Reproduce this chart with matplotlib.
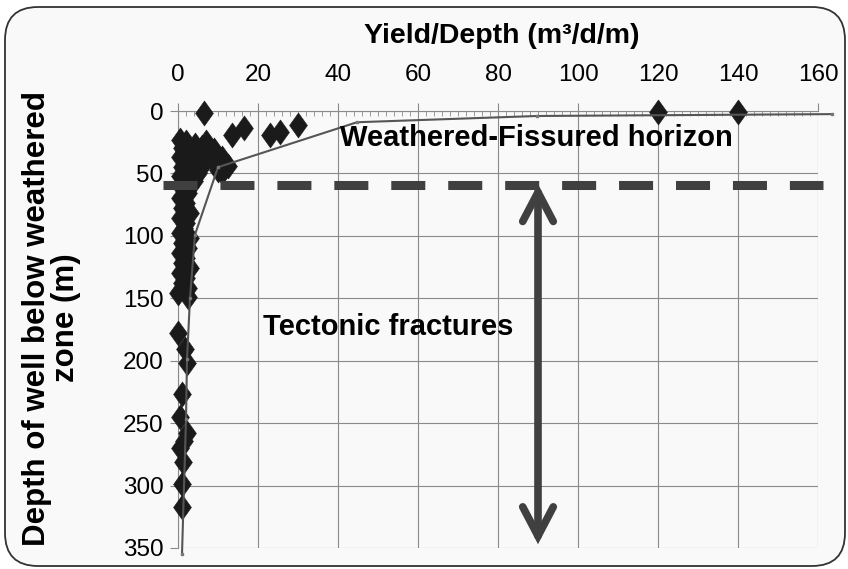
import numpy as np
import matplotlib
matplotlib.use("Agg")
import matplotlib.pyplot as plt
from matplotlib.patches import FancyBboxPatch
from matplotlib.path import Path

# valori (resa/profondità vs profondità)
yield_vals = [6.5, 120, 140, 13.5, 16.5, 23, 25.5, 30,
              0.5, 2, 4.25, 6, 7, 9, 11, 12.5, 11, 1, 3, 5, 8, 10, 0.5, 2, 4, 6, 10,
              1, 3, 5, 0.5, 2.5, 4, 1, 3,
              1, 2.5, 0.5, 2, 1, 3, 0.5, 2, 1.5, 0.5, 3, 1, 2.5, 0.5, 2, 1, 3, 0.5,
              2, 1, 2.5, 0, 2.5,
              0, 1.75, 2.25, 1, 0.5, 2.25, 1.5, 0.5, 1.25, 1, 1]
depth_vals = [2, 0.5, 0.5, 19, 14, 19, 17, 11,
              23, 25, 27, 29, 25, 31, 38, 44, 49, 30, 32, 34, 36, 42, 37, 40, 38, 44, 47,
              45, 48, 50, 52, 54, 56, 58, 60,
              62, 66, 70, 74, 78, 82, 86, 90, 94, 98, 102, 106, 110, 114, 118, 122, 126, 130,
              134, 138, 142, 146, 149,
              178, 191, 202, 227, 245, 258, 264, 270, 281, 299, 317]

# curva di tendenza
trend_x = [1.0, 2.0, 2.25, 3.0, 4.25, 10, 44.75, 89.75, 163.5]
trend_y = [355, 247, 199, 150, 99, 45, 9, 4, 2.5]

x_ticks = [0, 20, 40, 60, 80, 100, 120, 140, 160]
y_ticks = [0, 50, 100, 150, 200, 250, 300, 350]
horizon_depth = 59

plt.rcParams['lines.scale_dashes'] = False
font = ['Liberation Sans', 'DejaVu Sans']

fig = plt.figure(figsize=(8.48, 5.69), dpi=100)
fig.patch.set_facecolor('white')

# cornice arrotondata
box = FancyBboxPatch((0.05, 0.03), 8.40, 5.59, boxstyle="round,pad=0,rounding_size=0.33",
                     transform=fig.dpi_scale_trans, fc='#f9f9f9', ec='#333333', lw=1.3,
                     zorder=-10)
fig.add_artist(box)

ax = fig.add_axes([178 / 848, 1 - 548 / 569, 640 / 848, 437 / 569])
ax.set_facecolor('none')
ax.set_xlim(0, 160)
ax.set_ylim(350, 0)

ax.xaxis.tick_top()
ax.set_xticks(x_ticks)
ax.set_xticks(np.arange(0, 161, 2), minor=True)
ax.set_yticks(y_ticks)
ax.grid(True, which='major', color='#8a8a8a', lw=0.8)
ax.set_axisbelow(True)
for s in ['right', 'bottom']:
    ax.spines[s].set_visible(False)
for s in ['top', 'left']:
    ax.spines[s].set_color('#8a8a8a')
    ax.spines[s].set_linewidth(0.8)
ax.tick_params(axis='x', which='major', direction='out', length=6, color='#8a8a8a', pad=12)
ax.tick_params(axis='x', which='minor', direction='in', length=3.5, color='#8a8a8a')
ax.tick_params(axis='y', which='major', direction='out', length=5.5, color='#8a8a8a', pad=5)
for lab in ax.get_xticklabels() + ax.get_yticklabels():
    lab.set_family(font)
    lab.set_fontsize(17.5)

ax.set_xlabel('Yield/Depth (m³/d/m)', family=font, fontsize=20.5, fontweight='bold')
ax.xaxis.set_label_position('top')
ax.xaxis.set_label_coords(0.506, 1.172)
ax.xaxis.label.set_va('center')
ax.set_ylabel('Depth of well below weathered\nzone (m)', family=font, fontsize=22.5,
              fontweight='bold', linespacing=0.97)
ax.yaxis.set_label_coords(-0.151, 0.526)

# punti (rombi allungati)
diamond = Path([(0, 1.4), (1, 0), (0, -1.4), (-1, 0), (0, 1.4)],
               [Path.MOVETO, Path.LINETO, Path.LINETO, Path.LINETO, Path.CLOSEPOLY])
ax.plot(yield_vals, depth_vals, ls='none', marker=diamond, ms=18, mfc='#1a1a1a',
        mec='#1a1a1a', mew=0.4, clip_on=False, zorder=3)

ax.plot(trend_x, trend_y, color='#555555', lw=1.5, marker='s', ms=1.8, mfc='#777777',
        mec='#777777', clip_on=False, zorder=4)

# limite orizzonte alterato
ax.plot([-3.75, 161.25], [horizon_depth, horizon_depth], color='#404040', lw=6.5,
        dashes=(24.5, 16.5), solid_capstyle='butt', dash_capstyle='butt', clip_on=False, zorder=5)

ax.annotate('', xy=(90, 347), xytext=(90, 58.5),
            arrowprops=dict(arrowstyle='<->,head_length=1.05,head_width=0.55', color='#404040',
                            lw=5.5, mutation_scale=20, shrinkA=0, shrinkB=0,
                            capstyle='round', joinstyle='miter'), zorder=6)

ax.text(40.5, 21.5, 'Weathered-Fissured horizon', family=font, fontsize=21,
        fontweight='bold', ha='left', va='center', zorder=7)
ax.text(21.25, 173, 'Tectonic fractures', family=font, fontsize=21,
        fontweight='bold', ha='left', va='center', zorder=7)

fig.savefig('out.png', dpi=100)
